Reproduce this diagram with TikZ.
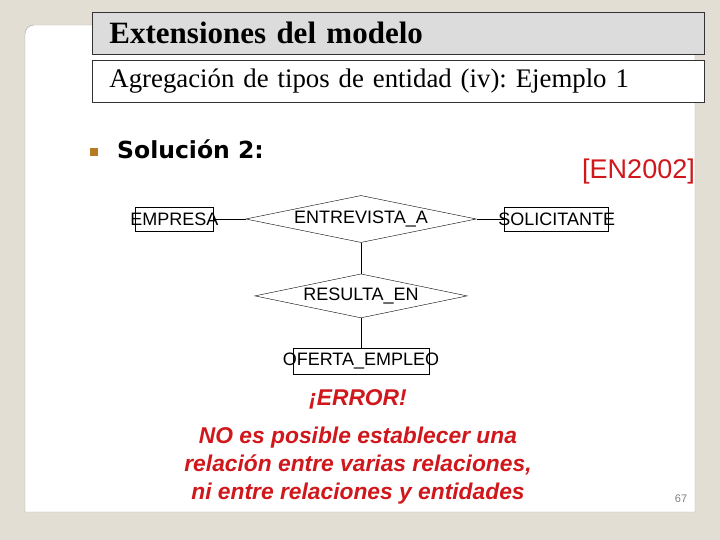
\documentclass[tikz,border=0pt]{standalone}
\usepackage{fontspec}
\setmainfont{Liberation Serif}
\newfontfamily\arialfont{Liberation Sans}
\newfontfamily\verdanafont{DejaVu Sans}
\usetikzlibrary{positioning,shapes.geometric}
\frenchspacing
\definecolor{slidebg}{HTML}{E3DED4}
\definecolor{titlegray}{HTML}{DCDCDC}
\definecolor{errred}{HTML}{D0181C}
\definecolor{bulletbrown}{HTML}{B77A22}
\definecolor{framegray}{HTML}{A8A49C}
\tikzset{
  slide/.style={x=1pt,y=-1pt},
  headbox/.style={draw=black!80,line width=0.9pt,anchor=west,
    minimum width=612pt,minimum height=42pt,inner xsep=17pt,
    text width=578pt,align=left},
  entitytext/.style={inner sep=0pt,font=\arialfont\fontsize{18}{20}\selectfont},
  entity/.style={draw,thin,inner sep=0pt,label={[entitytext]center:#1}},
  relationship/.style={diamond,draw,thin,aspect=6,inner sep=0pt,
    font=\arialfont\fontsize{18}{20}\selectfont},
  note/.style={text=errred,align=center,inner sep=0pt,
    font=\arialfont\bfseries\itshape\fontsize{22.8}{28}\selectfont},
}
\begin{document}
\begin{tikzpicture}[slide]
  \fill[slidebg] (0,0) rectangle (720,540);
  \useasboundingbox (0,0) rectangle (720,540);
  \draw[framegray,fill=white] (25,512) {[rounded corners=9pt] -- (25,25) -- (695,25)} -- (695,512) -- cycle;

  \node (title) [headbox,fill=titlegray,font=\bfseries\fontsize{31}{34}\selectfont] at (92,33) {Extensiones del modelo};
  \node (subtitle) [headbox,fill=white,font=\fontsize{26.8}{30}\selectfont] at (92,81) {Agregación de tipos de entidad (iv): Ejemplo 1};

  \node (bullet) [fill=bulletbrown,minimum size=8pt,inner sep=0pt] at (94,152) {};
  \node (solucion) [anchor=west,inner sep=0pt,font=\verdanafont\bfseries\fontsize{23.5}{26}\selectfont] at (117,149) {Solución 2:};
  \node (ref) [anchor=east,inner sep=0pt,text=errred,font=\arialfont\fontsize{27}{30}\selectfont] at (695,172) {[EN2002]};

  \node (entrevista) [relationship,minimum width=227pt,minimum height=47pt] at (361,219) {ENTREVISTA\_A};
  \node (empresa) [entity=EMPRESA,minimum width=78pt,minimum height=24pt,left=32pt of entrevista] {};
  \node (solicitante) [entity=SOLICITANTE,minimum width=104pt,minimum height=24pt,right=28pt of entrevista] {};
  \node (resulta) [relationship,minimum width=202pt,minimum height=44pt,below=31pt of entrevista] {RESULTA\_EN};
  \node (oferta) [entity=OFERTA\_EMPLEO,minimum width=136pt,minimum height=26pt,below=30pt of resulta] {};

  \draw (empresa) -- (entrevista);
  \draw (entrevista) -- (solicitante);
  \draw (entrevista) -- (resulta);
  \draw (resulta) -- (oferta);

  \node (error) [note] at (358,399) {¡ERROR!};
  \node (nota) [note] at (358,466) {NO es posible establecer una\\relación entre varias relaciones,\\ni entre relaciones y entidades};
  \node (pagina) [text=gray,font=\arialfont\fontsize{11}{13}\selectfont] at (681,499) {67};
\end{tikzpicture}
\end{document}
